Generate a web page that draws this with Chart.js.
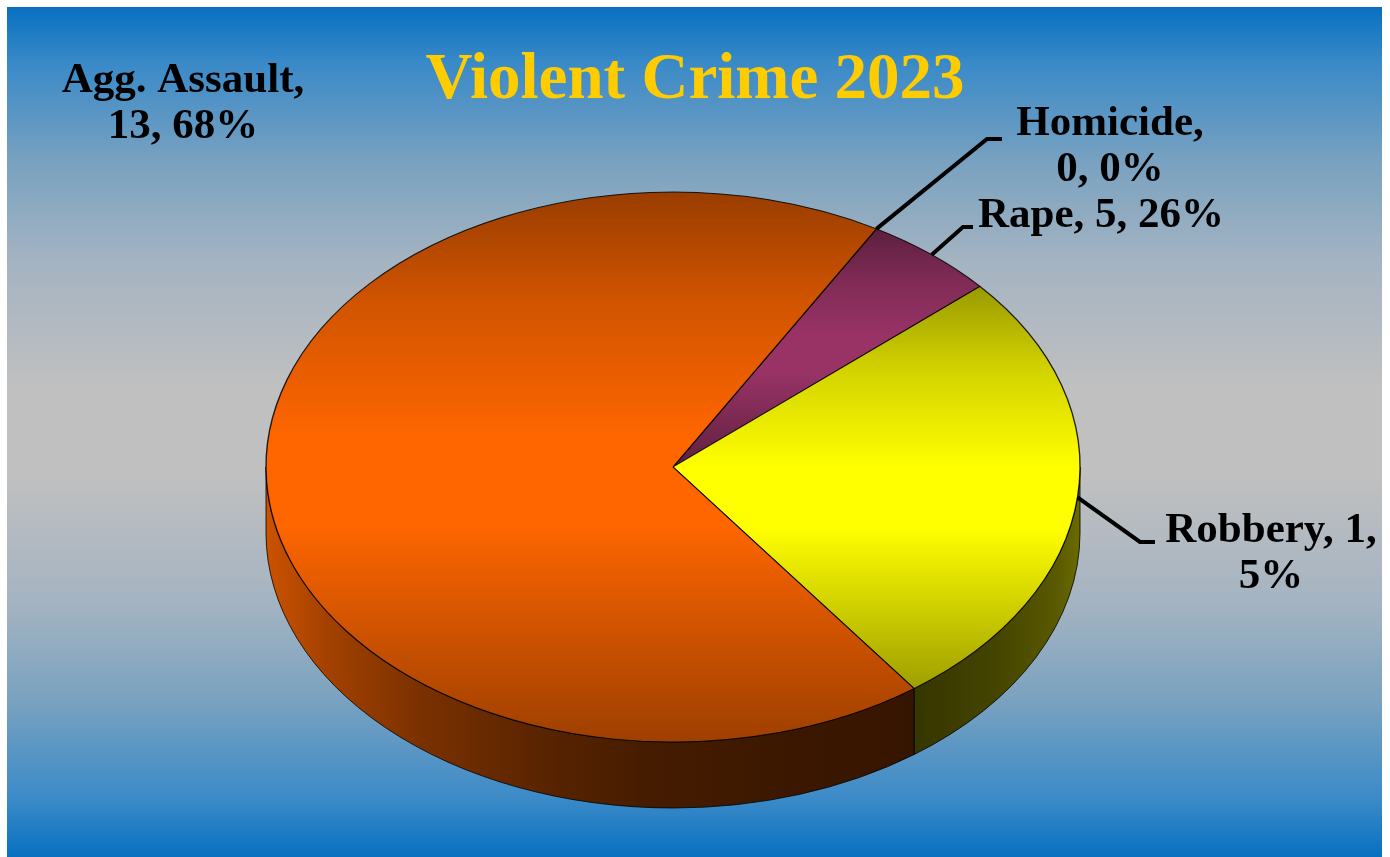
<!DOCTYPE html>
<html>
<head>
<meta charset="utf-8">
<title>Violent Crime 2023</title>
<script src="https://cdn.jsdelivr.net/npm/chart.js@4.4.1/dist/chart.umd.min.js"></script>
<style>
  html, body { margin: 0; padding: 0; background: #fff; overflow: hidden; }
  canvas { display: block; }
</style>
</head>
<body>
<canvas id="crimeChart" width="1390" height="857"></canvas>
<script>
//----------- data -----------
const chartTitle = 'Violent Crime 2023';
const categories = ['Homicide', 'Rape', 'Robbery', 'Agg. Assault'];
// counts as printed on the data labels
const labelCounts = [0, 5, 1, 13];
// slice sizes as drawn (in the original the slices don't agree with their labels)
const sliceValues = [0, 1, 5, 13];
const sliceColors = ['#9999ff', '#993366', '#ffff00', '#ff6600'];

//----------- look of the fake 3d pie -----------
const PIE = { cx: 673, cy: 467, rx: 407, ry: 275, depth: 66 };
const FONT = '"Liberation Serif", "Times New Roman", serif';

// label centre x, first baseline y, where the text wraps, leader elbow + end
const labelLayout = [
  { x: 1110, y: 135, wrap: 1, leader: [[987, 139], [1002, 139]] },
  { x: 1101, y: 227, wrap: 0, leader: [[963, 227], [973, 227]] },
  { x: 1271, y: 542, wrap: 2, leader: [[1140, 542], [1155, 542]] },
  { x: 183, y: 92, wrap: 1, leader: null }
];

// shade factors: top face (vertical, per slice box) and side wall (horizontal, whole pie)
const topShade = [[0, 0.6], [0.2, 0.82], [0.45, 1], [0.6, 1], [1, 0.62]];
const wallShade = [[0, 0.8], [0.08, 0.63], [0.19, 0.48], [0.34, 0.35], [0.47, 0.27],
                   [0.65, 0.23], [0.8, 0.21], [0.9, 0.27], [0.97, 0.35], [1, 0.42]];

function shade(hex, f) {
  const n = parseInt(hex.slice(1), 16);
  const r = Math.min(255, Math.round(((n >> 16) & 255) * f));
  const g = Math.min(255, Math.round(((n >> 8) & 255) * f));
  const b = Math.min(255, Math.round((n & 255) * f));
  return `rgb(${r},${g},${b})`;
}

// parts of [a0, a1] that face the viewer (lower half of the ellipse)
function frontParts(a0, a1) {
  const parts = [];
  const TAU = Math.PI * 2;
  for (let k = -2; k <= 2; k++) {
    const lo = Math.max(a0, k * TAU), hi = Math.min(a1, k * TAU + Math.PI);
    if (hi > lo) parts.push([lo - k * TAU, hi - k * TAU]);
  }
  return parts;
}

const total = labelCounts.reduce((a, b) => a + b, 0);

function labelLines(i) {
  const bits = [categories[i], String(labelCounts[i]), Math.round(labelCounts[i] / total * 100) + '%'];
  const wrap = labelLayout[i].wrap;
  if (!wrap) return [bits.join(', ')];
  return [bits.slice(0, wrap).join(', ') + ',', bits.slice(wrap).join(', ')];
}

let transformed = false;

const pie3d = {
  id: 'pie3d',
  beforeDraw(chart) {
    const ctx = chart.ctx;
    ctx.save();
    ctx.fillStyle = '#ffffff';
    ctx.fillRect(0, 0, chart.width, chart.height);
    const g = ctx.createLinearGradient(0, 7, 0, chart.height);
    g.addColorStop(0, '#0870c0');
    g.addColorStop(0.067, '#3a8ac8');
    g.addColorStop(0.185, '#7aa2c0');
    g.addColorStop(0.302, '#a5b4c2');
    g.addColorStop(0.45, '#c0c0c0');
    g.addColorStop(0.55, '#c0c0c0');
    g.addColorStop(0.698, '#a5b4c2');
    g.addColorStop(0.815, '#7aa2c0');
    g.addColorStop(0.933, '#3a8ac8');
    g.addColorStop(1, '#0870c0');
    ctx.fillStyle = g;
    ctx.fillRect(7, 7, chart.width - 15, chart.height - 7);
    ctx.restore();
  },
  beforeDatasetsDraw(chart) {
    const ctx = chart.ctx;
    const arcs = chart.getDatasetMeta(0).data;
    if (!arcs.length) return;
    const ref = arcs[0];
    const s = PIE.rx / ref.outerRadius;
    const k = PIE.ry / PIE.rx;

    // side walls
    ctx.save();
    arcs.forEach((arc, i) => {
      const wg = ctx.createLinearGradient(PIE.cx - PIE.rx, 0, PIE.cx + PIE.rx, 0);
      wallShade.forEach(([t, f]) => wg.addColorStop(t, shade(sliceColors[i], f)));
      frontParts(arc.startAngle, arc.endAngle).forEach(([b0, b1]) => {
        ctx.beginPath();
        ctx.ellipse(PIE.cx, PIE.cy, PIE.rx, PIE.ry, 0, b0, b1, false);
        ctx.ellipse(PIE.cx, PIE.cy + PIE.depth, PIE.rx, PIE.ry, 0, b1, b0, true);
        ctx.closePath();
        ctx.fillStyle = wg;
        ctx.fill();
        ctx.lineWidth = 1;
        ctx.strokeStyle = 'rgba(0,0,0,0.8)';
        ctx.stroke();
      });
    });
    ctx.restore();

    // top face gradients, in the chart's own coordinates
    arcs.forEach((arc, i) => {
      const r = arc.outerRadius;
      let minY = arc.y, maxY = arc.y;
      const steps = 60;
      for (let j = 0; j <= steps; j++) {
        const a = arc.startAngle + (arc.endAngle - arc.startAngle) * j / steps;
        const y = arc.y + r * Math.sin(a);
        minY = Math.min(minY, y);
        maxY = Math.max(maxY, y);
      }
      if (maxY - minY < 1) return;
      const tg = ctx.createLinearGradient(0, minY, 0, maxY);
      topShade.forEach(([t, f]) => tg.addColorStop(t, shade(sliceColors[i], f)));
      arc.options = Object.assign({}, arc.options, { backgroundColor: tg });
    });

    ctx.save();
    ctx.translate(PIE.cx, PIE.cy);
    ctx.scale(s, s * k);
    ctx.translate(-ref.x, -ref.y);
    transformed = true;
  },
  afterDatasetsDraw(chart) {
    const ctx = chart.ctx;
    if (transformed) { ctx.restore(); transformed = false; }
    const arcs = chart.getDatasetMeta(0).data;

    ctx.save();
    // leader lines
    ctx.strokeStyle = '#000';
    ctx.lineWidth = 4;
    ctx.lineJoin = 'miter';
    labelLayout.forEach((lay, i) => {
      if (!lay.leader || !arcs[i]) return;
      const a = (arcs[i].startAngle + arcs[i].endAngle) / 2;
      ctx.beginPath();
      ctx.moveTo(PIE.cx + PIE.rx * Math.cos(a), PIE.cy + PIE.ry * Math.sin(a));
      lay.leader.forEach(([x, y]) => ctx.lineTo(x, y));
      ctx.stroke();
    });
    // data labels
    ctx.fillStyle = '#000';
    ctx.font = `bold 43px ${FONT}`;
    ctx.textAlign = 'center';
    ctx.textBaseline = 'alphabetic';
    labelLayout.forEach((lay, i) => {
      labelLines(i).forEach((line, j) => ctx.fillText(line, lay.x, lay.y + j * 46));
    });
    ctx.restore();
  }
};

const ctx = document.getElementById('crimeChart').getContext('2d');
new Chart(ctx, {
  type: 'pie',
  data: {
    labels: categories,
    datasets: [{
      data: sliceValues,
      backgroundColor: sliceColors,
      borderColor: 'rgba(0,0,0,0.85)',
      borderWidth: 1.2,
      clip: false
    }]
  },
  options: {
    responsive: false,
    animation: false,
    rotation: 30,
    layout: { padding: { left: 200, right: 200, top: 0, bottom: 10 } },
    plugins: {
      legend: { display: false },
      tooltip: { enabled: false },
      title: {
        display: true,
        text: chartTitle,
        color: '#ffcc00',
        font: { family: FONT, size: 65, weight: 'bold', lineHeight: 1.2 },
        padding: { top: 42, bottom: 6 }
      }
    }
  },
  plugins: [pie3d]
});
</script>
</body>
</html>
